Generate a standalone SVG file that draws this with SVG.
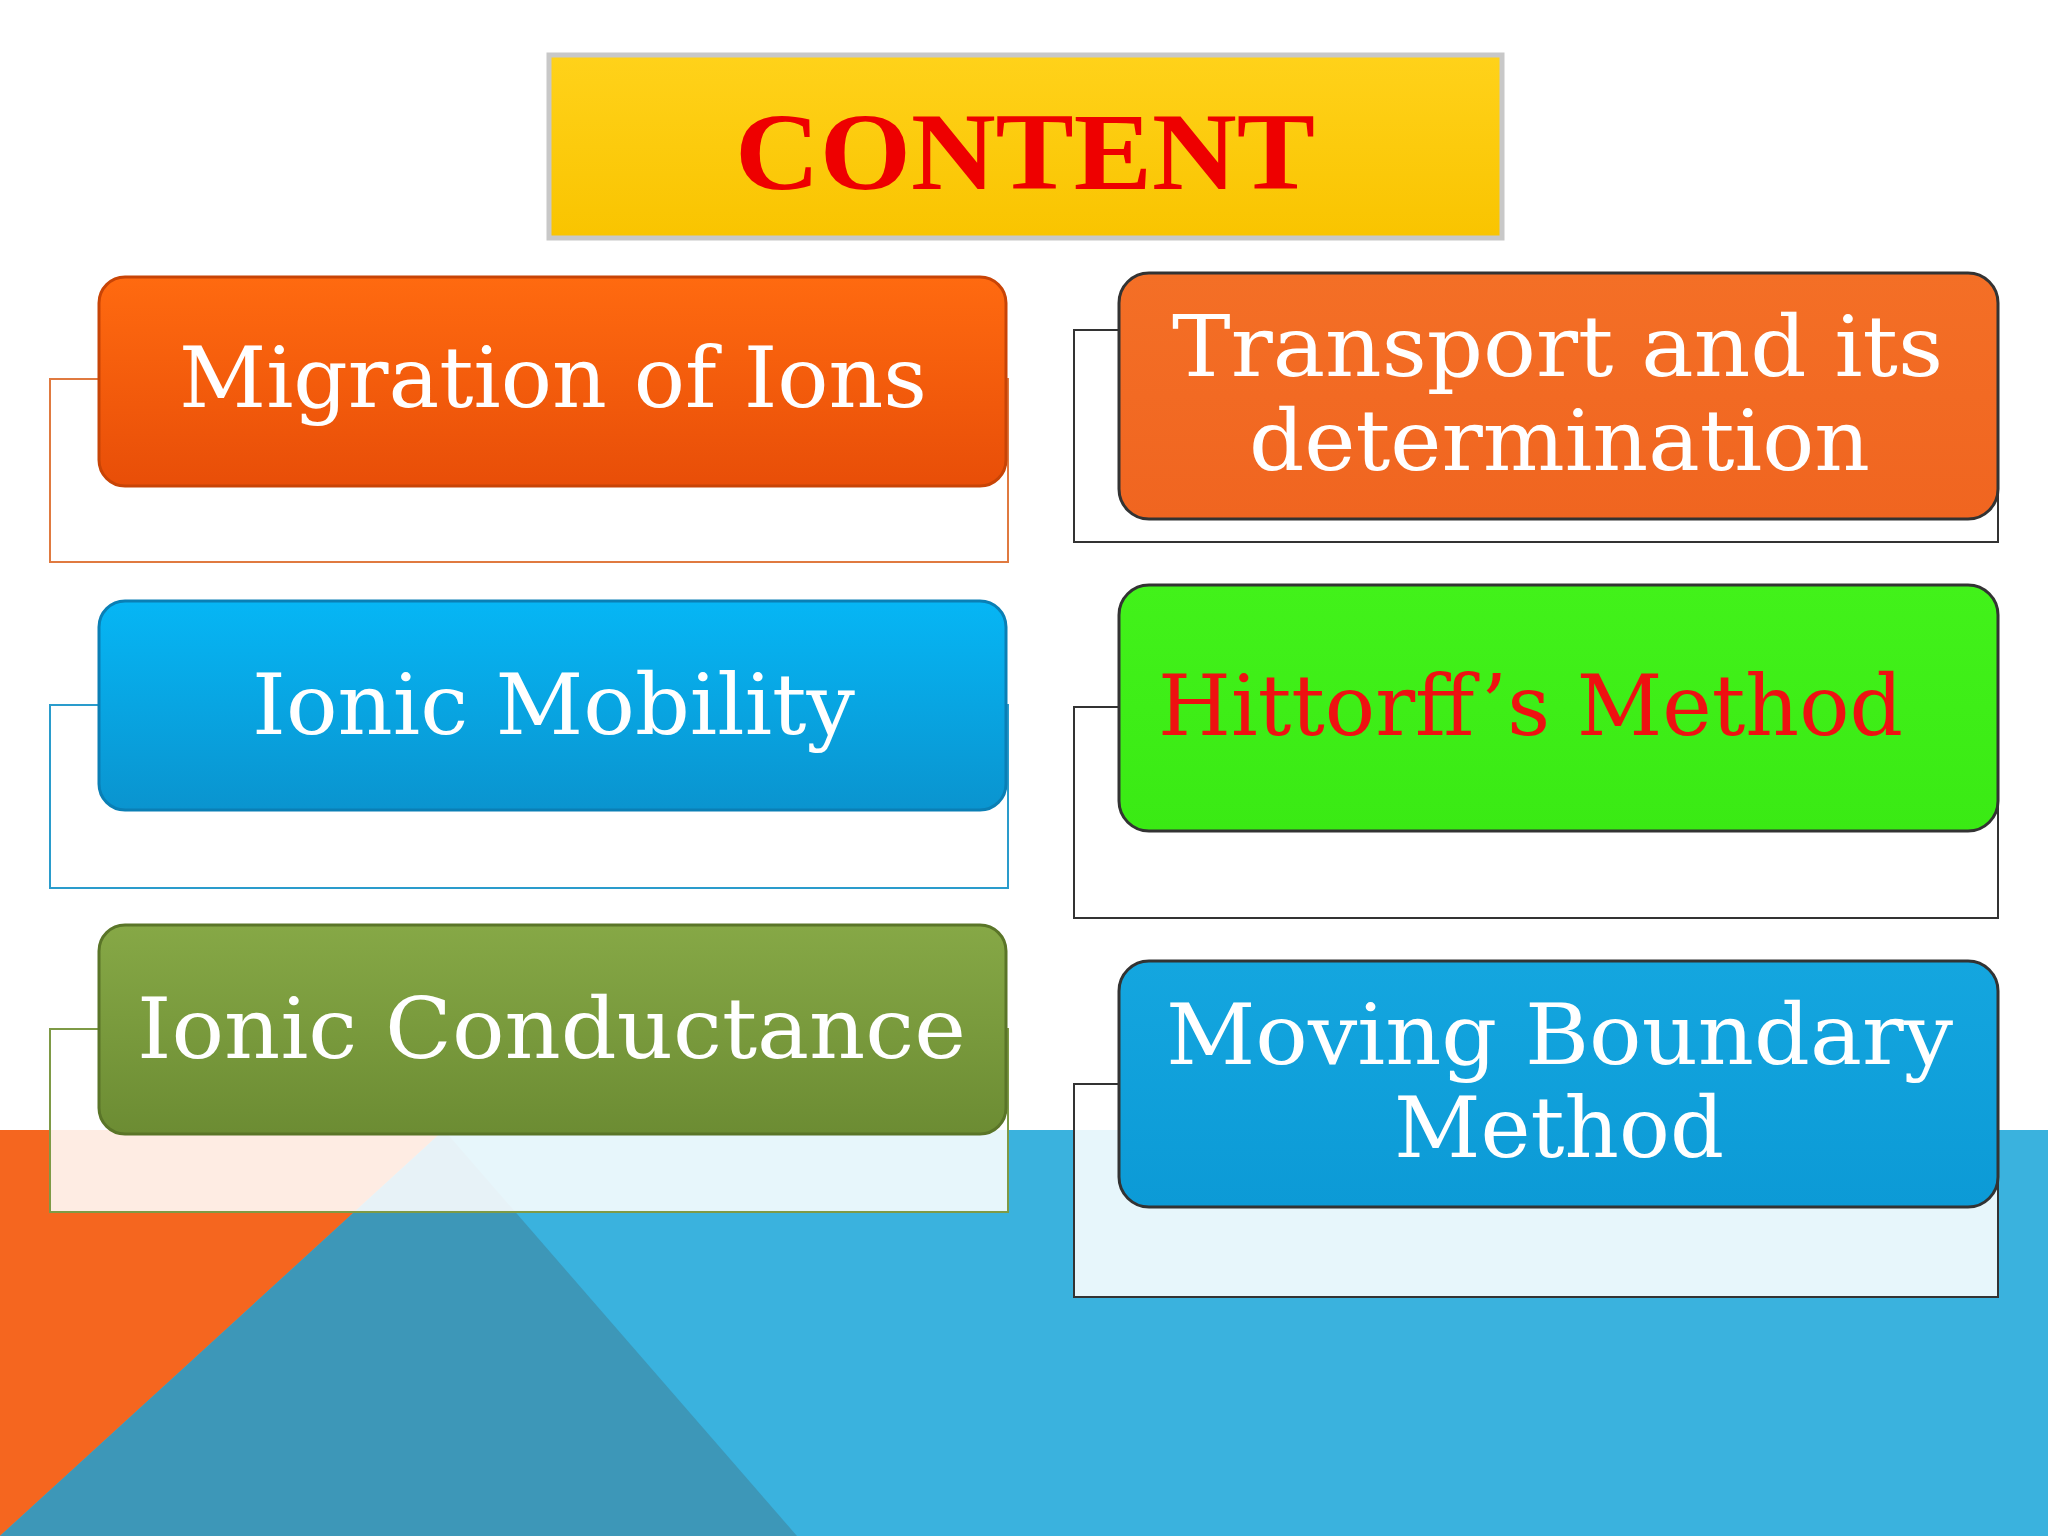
<svg xmlns="http://www.w3.org/2000/svg" width="2048" height="1536" viewBox="0 0 2048 1536">
<defs>
<linearGradient id="gY" x1="0" y1="0" x2="0" y2="1"><stop offset="0" stop-color="#ffd21a"/><stop offset="1" stop-color="#f9c400"/></linearGradient>
<linearGradient id="gO" x1="0" y1="0" x2="0" y2="1"><stop offset="0" stop-color="#ff6a10"/><stop offset="1" stop-color="#e84e08"/></linearGradient>
<linearGradient id="gB" x1="0" y1="0" x2="0" y2="1"><stop offset="0" stop-color="#06b6f5"/><stop offset="1" stop-color="#0a94cf"/></linearGradient>
<linearGradient id="gV" x1="0" y1="0" x2="0" y2="1"><stop offset="0" stop-color="#86a846"/><stop offset="1" stop-color="#6c8c33"/></linearGradient>
<linearGradient id="gO2" x1="0" y1="0" x2="0" y2="1"><stop offset="0" stop-color="#f46f26"/><stop offset="1" stop-color="#f06520"/></linearGradient>
<linearGradient id="gG" x1="0" y1="0" x2="0" y2="1"><stop offset="0" stop-color="#42f21a"/><stop offset="1" stop-color="#3aea14"/></linearGradient>
<linearGradient id="gB2" x1="0" y1="0" x2="0" y2="1"><stop offset="0" stop-color="#14a6df"/><stop offset="1" stop-color="#0c9ad6"/></linearGradient>
</defs>
<style>
.t{font-family:"DejaVu Serif","Liberation Serif",serif;font-size:84px;fill:#ffffff}
.back{fill:#ffffff;fill-opacity:0.88;stroke-width:2}
.front{stroke-width:3}
</style>
<rect width="2048" height="1536" fill="#ffffff"/>
<rect x="0" y="1130" width="2048" height="406" fill="#3ab2de"/>
<polygon points="0,1130 444,1130 0,1536" fill="#f5661f"/>
<polygon points="444,1130 0,1536 797,1536" fill="#3d97b8"/>
<g id="title">
<rect x="549" y="55" width="953" height="183" fill="url(#gY)" stroke="#c8c8c8" stroke-width="5"/>
<text x="1025" y="189" text-anchor="middle" font-family="Liberation Serif,serif" font-weight="bold" font-size="110" fill="#ee0000" textLength="580" lengthAdjust="spacingAndGlyphs">CONTENT</text>
</g>
<g id="n1">
<rect class="back" x="50" y="379" width="958" height="183" stroke="#e07a40"/>
<rect class="front" x="99" y="277" width="907" height="209" rx="26" fill="url(#gO)" stroke="#c84406"/>
<text class="t" x="179" y="407" textLength="748" lengthAdjust="spacingAndGlyphs">Migration of Ions</text>
</g>
<g id="n2">
<rect class="back" x="50" y="705" width="958" height="183" stroke="#2a9ccc"/>
<rect class="front" x="99" y="601" width="907" height="209" rx="26" fill="url(#gB)" stroke="#0a7fb5"/>
<text class="t" x="252" y="734" textLength="603" lengthAdjust="spacingAndGlyphs">Ionic Mobility</text>
</g>
<g id="n3">
<rect class="back" x="50" y="1029" width="958" height="183" stroke="#7e9a46"/>
<rect class="front" x="99" y="925" width="907" height="209" rx="26" fill="url(#gV)" stroke="#5a7528"/>
<text class="t" x="137" y="1058" textLength="829" lengthAdjust="spacingAndGlyphs">Ionic Conductance</text>
</g>
<g id="n4">
<rect class="back" x="1074" y="330" width="924" height="212" stroke="#333333"/>
<rect class="front" x="1119" y="273" width="879" height="246" rx="30" fill="url(#gO2)" stroke="#333333"/>
<text class="t" x="1172" y="376" textLength="771" lengthAdjust="spacingAndGlyphs">Transport and its</text>
<text class="t" x="1249" y="470" textLength="621" lengthAdjust="spacingAndGlyphs">determination</text>
</g>
<g id="n5">
<rect class="back" x="1074" y="707" width="924" height="211" stroke="#333333"/>
<rect class="front" x="1119" y="585" width="879" height="246" rx="30" fill="url(#gG)" stroke="#333333"/>
<text class="t" x="1158" y="735" fill="#ee1111" style="fill:#ee1111" textLength="745" lengthAdjust="spacingAndGlyphs">Hittorff’s Method</text>
</g>
<g id="n6">
<rect class="back" x="1074" y="1084" width="924" height="213" stroke="#333333"/>
<rect class="front" x="1119" y="961" width="879" height="246" rx="30" fill="url(#gB2)" stroke="#333333"/>
<text class="t" x="1166" y="1064" textLength="787" lengthAdjust="spacingAndGlyphs">Moving Boundary</text>
<text class="t" x="1394" y="1157" textLength="330" lengthAdjust="spacingAndGlyphs">Method</text>
</g>
<g id="connectors"></g>
</svg>
